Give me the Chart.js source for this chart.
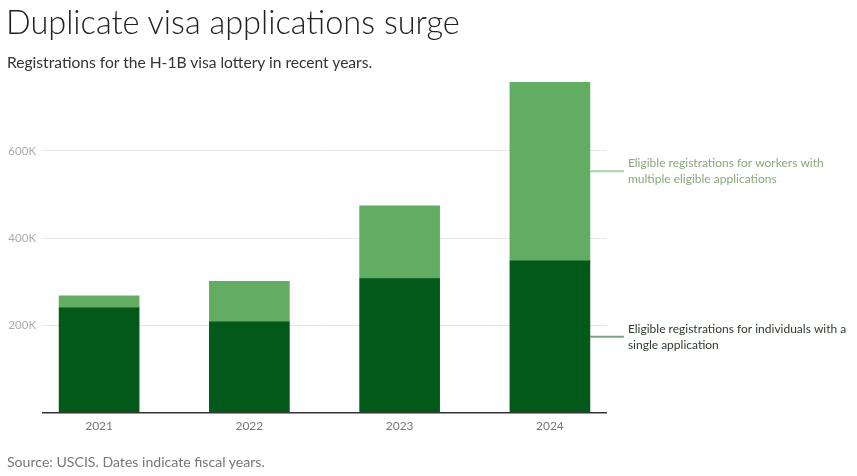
<!DOCTYPE html>
<html lang="en">
<head>
<meta charset="UTF-8">
<title>Duplicate visa applications surge</title>
<script src="https://cdn.jsdelivr.net/npm/chart.js"></script>
<style>
  html, body { margin: 0; padding: 0; background: #fff; }
  body { font-family: 'Lato', 'Open Sans', sans-serif; }
  #wrap { position: relative; width: 857px; height: 476px; overflow: hidden; }
  #chart { position: absolute; left: 0; top: 0; }
  h1 { position: absolute; left: 6px; top: 2px; margin: 0; font-size: 32.5px; font-weight: 300; color: #222; white-space: nowrap; }
  .sub { position: absolute; left: 7px; top: 53px; font-size: 15.6px; color: #333; }
  .source { position: absolute; left: 7px; top: 453px; font-size: 14.1px; color: #777; }
</style>
</head>
<body>
<div id="wrap">
  <canvas id="chart" width="857" height="476"></canvas>
  <h1>Duplicate visa applications surge</h1>
  <div class="sub">Registrations for the H-1B visa lottery in recent years.</div>
  <div class="source">Source: USCIS. Dates indicate fiscal years.</div>
</div>
<script>
  // fiscal years and eligible registrations
  const years = [2021, 2022, 2023, 2024];
  const singleApp = [240000, 208000, 307000, 348000];
  const multipleApp = [28000, 93000, 167000, 411000];
  const seriesNames = [
    ['Eligible registrations for individuals with a', 'single application'],
    ['Eligible registrations for workers with', 'multiple eligible applications']
  ];
  const yTicks = [200000, 400000, 600000];

  const darkGreen = '#03591a';
  const lightGreen = '#62ad62';

  // labels next to the last bar, placed at the middle of each segment
  const endLabels = {
    id: 'endLabels',
    afterDatasetsDraw(chart) {
      const ctx = chart.ctx;
      const y = chart.scales.y;
      const last = years.length - 1;
      const bar = chart.getDatasetMeta(0).data[last];
      const x0 = bar.x + bar.width / 2;
      const segs = [
        { lo: 0, hi: singleApp[last], text: seriesNames[0], line: '#7da386', color: '#2e3b2e' },
        { lo: singleApp[last], hi: singleApp[last] + multipleApp[last], text: seriesNames[1], line: '#a9d1a4', color: '#8aa87b' }
      ];
      ctx.save();
      ctx.font = '12px Lato, "Open Sans", sans-serif';
      ctx.textBaseline = 'middle';
      segs.forEach(s => {
        const ym = (y.getPixelForValue(s.lo) + y.getPixelForValue(s.hi)) / 2;
        ctx.strokeStyle = s.line;
        ctx.lineWidth = 2;
        ctx.beginPath();
        ctx.moveTo(x0, ym);
        ctx.lineTo(x0 + 34, ym);
        ctx.stroke();
        ctx.fillStyle = s.color;
        ctx.fillText(s.text[0], x0 + 38, ym - 8);
        ctx.fillText(s.text[1], x0 + 38, ym + 8);
      });
      ctx.restore();
    }
  };

  new Chart(document.getElementById('chart'), {
    type: 'bar',
    data: {
      datasets: [
        { label: seriesNames[0].join(' '), data: years.map((yr, i) => ({ x: yr, y: singleApp[i] })), backgroundColor: darkGreen, barThickness: 80 },
        { label: seriesNames[1].join(' '), data: years.map((yr, i) => ({ x: yr, y: multipleApp[i] })), backgroundColor: lightGreen, barThickness: 80 }
      ]
    },
    options: {
      responsive: false,
      animation: false,
      layout: { padding: { top: 82, left: 0, right: 250, bottom: 37 } },
      plugins: { legend: { display: false }, tooltip: { enabled: false } },
      scales: {
        x: {
          type: 'linear',
          stacked: true,
          offset: false,
          min: 2020.62,
          max: 2024.38,
          grid: { display: false, drawTicks: false },
          border: { display: false },
          ticks: {
            stepSize: 1,
            includeBounds: false,
            padding: 6,
            color: '#777',
            font: { family: 'Lato', size: 12 },
            callback: v => Number.isInteger(v) ? String(v) : ''
          }
        },
        y: {
          stacked: true,
          min: 0,
          max: 758000,
          border: { display: false },
          grid: {
            drawTicks: false,
            color: c => c.tick.value === 0 ? '#333' : '#e6e6e6',
            lineWidth: c => c.tick.value === 0 ? 1.5 : 1
          },
          afterBuildTicks: s => { s.ticks = [0].concat(yTicks).map(v => ({ value: v })); },
          ticks: {
            padding: 6,
            color: '#aaa',
            font: { family: 'Lato', size: 11.5 },
            callback: v => v === 0 ? '' : (v / 1000) + 'K'
          },
          afterFit: s => { s.width = 42; }
        }
      }
    },
    plugins: [endLabels]
  });
</script>
</body>
</html>
